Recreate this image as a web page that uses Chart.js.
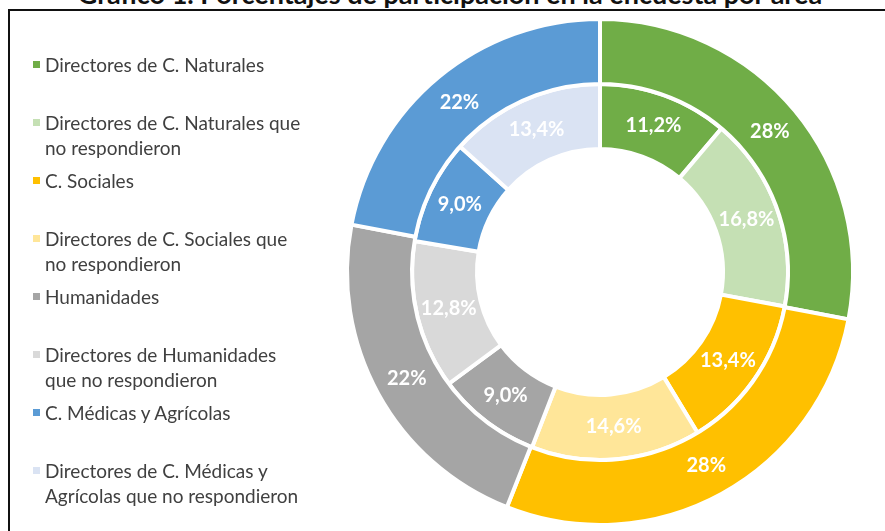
<!DOCTYPE html>
<html>
<head>
<meta charset="utf-8">
<script src="https://cdn.jsdelivr.net/npm/chart.js@4.4.1/dist/chart.umd.min.js"></script>
<style>
  html, body { margin: 0; padding: 0; background: #fff; }
  #wrap { position: relative; width: 885px; height: 531px; overflow: hidden; }
  #grafico { position: absolute; left: 0; top: 0; }
  #marco { position: absolute; left: 8px; top: 9px; width: 900px; height: 600px;
           border-left: 2px solid #111; border-top: 2px solid #111; }
  #titulo { position: absolute; left: 0; width: 900px; top: -20px; text-align: center;
            font: bold 27px Lato, sans-serif; line-height: 27px; color: #111; white-space: nowrap; }
  #leyenda { position: absolute; left: 0; top: 0; font: 19px Lato, sans-serif; color: #404040; }
  .item { position: absolute; left: 45px; line-height: 25px; white-space: nowrap; }
  .item i { position: absolute; left: -12px; top: 9px; width: 7px; height: 7px; }
</style>
</head>
<body>
<div id="wrap">
  <div id="marco"></div>
  <div id="titulo">Gráfico 1. Porcentajes de participación en la encuesta por área</div>
  <canvas id="grafico" width="885" height="531"></canvas>
  <div id="leyenda"></div>
</div>
<script>
// areas (anillo exterior)
var areas = ['Directores de C. Naturales', 'C. Sociales', 'Humanidades', 'C. Médicas y Agrícolas'];
var valoresAreas = [28, 28, 22, 22];
var coloresAreas = ['#70AD47', '#FFC000', '#A5A5A5', '#5B9BD5'];

// categorias (anillo interior), cada una con sus lineas de leyenda
var categorias = [
  ['Directores de C. Naturales'],
  ['Directores de C. Naturales que', 'no respondieron'],
  ['C. Sociales'],
  ['Directores de C. Sociales que', 'no respondieron'],
  ['Humanidades'],
  ['Directores de Humanidades', 'que no respondieron'],
  ['C. Médicas y Agrícolas'],
  ['Directores de C. Médicas y', 'Agrícolas que no respondieron']
];
var valoresCategorias = [11.2, 16.8, 13.4, 14.6, 9.0, 12.8, 9.0, 13.4];
var coloresCategorias = ['#70AD47', '#C5E0B4', '#FFC000', '#FFE699', '#A5A5A5', '#D9D9D9', '#5B9BD5', '#DAE3F3'];

var etiquetasAreas = valoresAreas.map(function (v) { return v + '%'; });
var etiquetasCategorias = valoresCategorias.map(function (v) { return v.toFixed(1).replace('.', ',') + '%'; });

// leyenda html
var leyenda = document.getElementById('leyenda');
categorias.forEach(function (lineas, i) {
  var div = document.createElement('div');
  div.className = 'item';
  div.style.top = (52 + 58 * i) + 'px';
  div.innerHTML = '<i style="background:' + coloresCategorias[i] + '"></i>' + lineas.join('<br>');
  leyenda.appendChild(div);
});

var etiquetasPlugin = {
  id: 'etiquetas',
  afterDatasetsDraw: function (chart) {
    var ctx = chart.ctx;
    ctx.save();
    ctx.font = 'bold 20px Lato, sans-serif';
    ctx.fillStyle = '#ffffff';
    ctx.textAlign = 'center';
    ctx.textBaseline = 'middle';
    chart.data.datasets.forEach(function (ds, i) {
      var meta = chart.getDatasetMeta(i);
      meta.data.forEach(function (arc, j) {
        var p = arc.tooltipPosition();
        ctx.fillText(ds.etiquetas[j], p.x, p.y);
      });
    });
    ctx.restore();
  }
};

var grafico = new Chart(document.getElementById('grafico').getContext('2d'), {
  type: 'doughnut',
  data: {
    labels: categorias.map(function (c) { return c.join(' '); }),
    datasets: [
      {
        label: 'Áreas',
        data: valoresAreas,
        etiquetas: etiquetasAreas,
        backgroundColor: coloresAreas,
        borderColor: '#ffffff',
        borderWidth: 4
      },
      {
        label: 'Categorías',
        data: valoresCategorias,
        etiquetas: etiquetasCategorias,
        backgroundColor: coloresCategorias,
        borderColor: '#ffffff',
        borderWidth: 4
      }
    ]
  },
  options: {
    responsive: false,
    animation: false,
    devicePixelRatio: 1,
    cutout: 123,
    layout: { padding: { left: 345, right: 30, top: 17, bottom: 4 } },
    plugins: {
      legend: { display: false },
      tooltip: { enabled: false },
      title: { display: false }
    }
  },
  plugins: [etiquetasPlugin]
});
</script>
</body>
</html>
